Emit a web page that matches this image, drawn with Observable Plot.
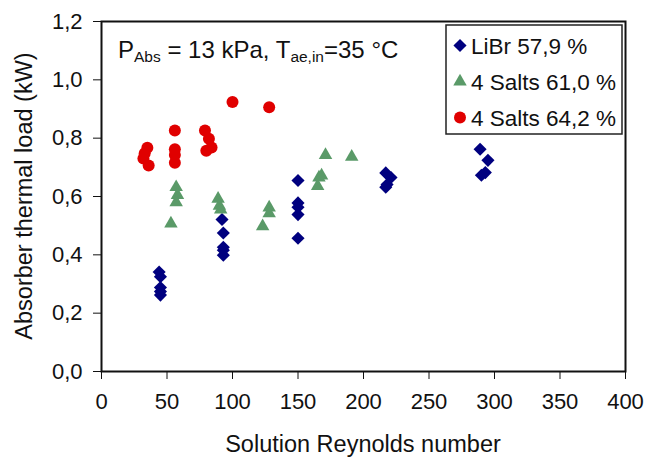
<!DOCTYPE html>
<html><head><meta charset="utf-8">
<script src="https://cdn.jsdelivr.net/npm/d3@7"></script>
<script src="https://cdn.jsdelivr.net/npm/@observablehq/plot@0.6"></script>
<style>
html,body{margin:0;padding:0;background:#fff;}
#chart{position:relative;width:663px;height:457px;}
</style></head><body><div id="chart"></div>
<script>
// Series metadata
const seriesNames = ["LiBr 57,9 %", "4 Salts 61,0 %", "4 Salts 64,2 %"];
const seriesColors = ["#00007f", "#5a9a68", "#e00000"];
const seriesSymbols = ["diamond2", "triangle", "circle"];

// LiBr 57,9 %
const librRe   = [44, 45, 45, 45, 45, 92, 93, 93, 93, 93, 150, 150, 150, 150, 150, 217, 221, 218, 217, 289, 295, 293, 290];
const librLoad = [0.341, 0.325, 0.288, 0.274, 0.262, 0.521, 0.475, 0.426, 0.416, 0.399, 0.655, 0.578, 0.563, 0.538, 0.457, 0.681, 0.665, 0.641, 0.632, 0.762, 0.724, 0.682, 0.673];

// 4 Salts 61,0 %
const salts61Re   = [53, 57, 58, 57, 89, 90, 91, 123, 128, 128, 165, 166, 168, 171, 191];
const salts61Load = [0.507, 0.632, 0.605, 0.58, 0.592, 0.568, 0.555, 0.498, 0.562, 0.542, 0.636, 0.665, 0.672, 0.742, 0.736];

// 4 Salts 64,2 %
const salts64Re   = [35, 33, 32, 36, 56, 56, 56, 56, 79, 82, 84, 80, 100, 128];
const salts64Load = [0.767, 0.748, 0.73, 0.706, 0.826, 0.762, 0.742, 0.716, 0.826, 0.798, 0.768, 0.757, 0.924, 0.906];

// Axis ticks
const xTicks = [0, 50, 100, 150, 200, 250, 300, 350, 400];
const yTicks = [0, 0.2, 0.4, 0.6, 0.8, 1.0, 1.2];

const xLabel = "Solution Reynolds number";
const yLabel = "Absorber thermal load (kW)";

const toRows = (xs, ys) => xs.map((x, i) => ({re: x, load: ys[i]}));
const seriesData = [toRows(librRe, librLoad), toRows(salts61Re, salts61Load), toRows(salts64Re, salts64Load)];
const seriesR = [5.9, 5.0, 6.0];

const FONT = "'Liberation Sans', Arial, sans-serif";

const plot = Plot.plot({
  width: 663, height: 457,
  marginLeft: 101, marginRight: 38, marginTop: 21, marginBottom: 86,
  style: {fontFamily: FONT, fontSize: "22px", color: "#111", background: "white", overflow: "visible"},
  x: {domain: [0, 400], ticks: xTicks, tickSize: 8, tickPadding: 14, label: null, tickFormat: d => String(d)},
  y: {domain: [0, 1.2], ticks: yTicks, tickSize: 8, tickPadding: 11, label: null, tickFormat: d => d.toFixed(1).replace(".", ",")},
  marks: [
    ...seriesData.map((rows, k) => Plot.dot(rows, {x: "re", y: "load", symbol: () => seriesSymbols[k], fill: seriesColors[k], r: seriesR[k], stroke: "none"})),
    Plot.frame({stroke: "#111", strokeWidth: 2})
  ]
});

document.getElementById("chart").appendChild(plot);

const svg = d3.select(plot);
const xs = plot.scale("x"), ys = plot.scale("y");
const x0 = xs.range[0], x1 = xs.range[1];
const yTop = ys.range[1], yBot = ys.range[0];

// Axis titles
svg.append("text").attr("x", (x0 + x1) / 2).attr("y", 452)
  .attr("text-anchor", "middle").style("font-size", "23.5px").attr("fill", "#111").text(xLabel);
svg.append("text").attr("transform", `translate(32,${(yTop + yBot) / 2}) rotate(-90)`)
  .attr("text-anchor", "middle").style("font-size", "23.5px").attr("fill", "#111").text(yLabel);

// Annotation
const ann = svg.append("text").attr("x", 118).attr("y", 58).attr("text-anchor", "start")
  .style("font-size", "24px").attr("fill", "#111");
ann.append("tspan").text("P");
ann.append("tspan").attr("dy", 4).style("font-size", "15.5px").text("Abs");
ann.append("tspan").attr("dy", -4).text(" = 13 kPa, T");
ann.append("tspan").attr("dy", 4).style("font-size", "15.5px").text("ae,in");
ann.append("tspan").attr("dy", -4).text("=35 °C");

// Legend
const lg = svg.append("g").attr("text-anchor", "start");
lg.append("rect").attr("x", 446).attr("y", 25).attr("width", 176).attr("height", 109)
  .attr("fill", "white").attr("stroke", "#222").attr("stroke-width", 1.5);
const symMap = {diamond2: d3.symbolDiamond2, triangle: d3.symbolTriangle, circle: d3.symbolCircle};
seriesNames.forEach((name, k) => {
  const cy = 45.5 + k * 36;
  lg.append("path").attr("transform", `translate(460,${cy})`)
    .attr("d", d3.symbol(symMap[seriesSymbols[k]], Math.PI * seriesR[k] * seriesR[k])())
    .attr("fill", seriesColors[k]);
  lg.append("text").attr("x", 471).attr("y", cy + 8).attr("text-anchor", "start")
    .style("font-size", "22.5px").attr("fill", "#111").text(name);
});
</script>
</body></html>
